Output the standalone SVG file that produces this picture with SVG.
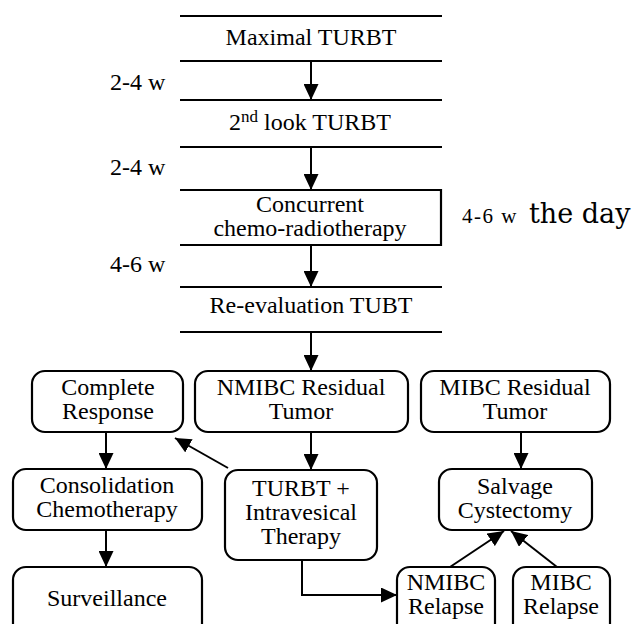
<svg xmlns="http://www.w3.org/2000/svg" width="637" height="624" viewBox="0 0 637 624">
<style>
  text { font-family: Liberation Serif, Times New Roman, serif; font-size: 24px; fill: #000; text-anchor: middle; }
  .lbl { text-anchor: start; }
  .small { font-size: 21px; letter-spacing: 1.5px; }
  .day { font-family: DejaVu Serif, serif; font-size: 27px; }
  .rule { stroke: #000; stroke-width: 2.2; fill: none; }
  .box { stroke: #000; stroke-width: 2.2; fill: #fff; }
  .conn { stroke: #000; stroke-width: 2; fill: none; marker-end: url(#arr); }
</style>
<defs>
  <marker id="arr" markerUnits="userSpaceOnUse" markerWidth="17" markerHeight="15" refX="16" refY="7.5" orient="auto">
    <path d="M0,0 L16,7.5 L0,15 z" fill="#000"/>
  </marker>
</defs>
<rect width="637" height="624" fill="#fff"/>

<g id="n-maximal">
  <line class="rule" x1="180" y1="16" x2="442" y2="16"/>
  <line class="rule" x1="180" y1="61" x2="442" y2="61"/>
  <text x="311" y="45">Maximal TURBT</text>
</g>
<g id="n-second">
  <line class="rule" x1="180" y1="100" x2="442" y2="100"/>
  <line class="rule" x1="180" y1="147" x2="442" y2="147"/>
  <text x="310" y="130">2<tspan dy="-8" font-size="17">nd</tspan><tspan dy="8"> look TURBT</tspan></text>
</g>
<g id="n-concurrent">
  <path class="rule" d="M180,190 H441 V245 H180"/>
  <text x="310" y="212">Concurrent</text>
  <text x="310" y="236">chemo-radiotherapy</text>
</g>
<g id="n-reeval">
  <line class="rule" x1="180" y1="287" x2="442" y2="287"/>
  <line class="rule" x1="180" y1="332" x2="442" y2="332"/>
  <text x="311" y="313">Re-evaluation TUBT</text>
</g>

<g id="labels">
  <text class="lbl" x="110" y="90">2-4 w</text>
  <text class="lbl" x="110" y="175">2-4 w</text>
  <text class="lbl" x="110" y="272">4-6 w</text>
  <text class="lbl small" x="462" y="223">4-6 w</text>
  <text class="lbl day" x="529" y="223">the day</text>
</g>

<g id="n-complete">
  <rect class="box" x="32" y="371" width="151" height="61" rx="13"/>
  <text x="108" y="395">Complete</text>
  <text x="108" y="419">Response</text>
</g>
<g id="n-nmibc-res">
  <rect class="box" x="195" y="371" width="213" height="61" rx="13"/>
  <text x="301" y="395">NMIBC Residual</text>
  <text x="301" y="419">Tumor</text>
</g>
<g id="n-mibc-res">
  <rect class="box" x="421" y="371" width="189" height="61" rx="13"/>
  <text x="515" y="395">MIBC Residual</text>
  <text x="515" y="419">Tumor</text>
</g>
<g id="n-consolidation">
  <rect class="box" x="13" y="469" width="189" height="61" rx="13"/>
  <text x="107" y="493">Consolidation</text>
  <text x="107" y="517">Chemotherapy</text>
</g>
<g id="n-turbt">
  <rect class="box" x="225" y="470" width="152" height="90" rx="13"/>
  <text x="301" y="496">TURBT +</text>
  <text x="301" y="520">Intravesical</text>
  <text x="301" y="544">Therapy</text>
</g>
<g id="n-salvage">
  <rect class="box" x="439" y="469" width="153" height="61" rx="13"/>
  <text x="515" y="494">Salvage</text>
  <text x="515" y="518">Cystectomy</text>
</g>
<g id="n-surveillance">
  <rect class="box" x="13" y="567" width="189" height="70" rx="13"/>
  <text x="107" y="606">Surveillance</text>
</g>
<g id="n-nmibc-rel">
  <rect class="box" x="397" y="567" width="98" height="70" rx="13"/>
  <text x="446" y="590">NMIBC</text>
  <text x="446" y="614">Relapse</text>
</g>
<g id="n-mibc-rel">
  <rect class="box" x="513" y="567" width="97" height="70" rx="13"/>
  <text x="561" y="590">MIBC</text>
  <text x="561" y="614">Relapse</text>
</g>

<g id="connectors">
  <line class="conn" x1="311" y1="62" x2="311" y2="100"/>
  <line class="conn" x1="311" y1="148" x2="311" y2="190"/>
  <line class="conn" x1="311" y1="246" x2="311" y2="287"/>
  <line class="conn" x1="311" y1="333" x2="311" y2="371"/>
  <line class="conn" x1="311" y1="432" x2="311" y2="470"/>
  <line class="conn" x1="228" y1="468" x2="175" y2="438"/>
  <line class="conn" x1="106" y1="432" x2="106" y2="469"/>
  <line class="conn" x1="106" y1="530" x2="106" y2="567"/>
  <path class="conn" d="M302,560 V595 H397"/>
  <line class="conn" x1="521" y1="432" x2="521" y2="469"/>
  <line class="conn" x1="450" y1="567" x2="504" y2="531"/>
  <line class="conn" x1="557" y1="567" x2="511" y2="531"/>
</g>
</svg>
